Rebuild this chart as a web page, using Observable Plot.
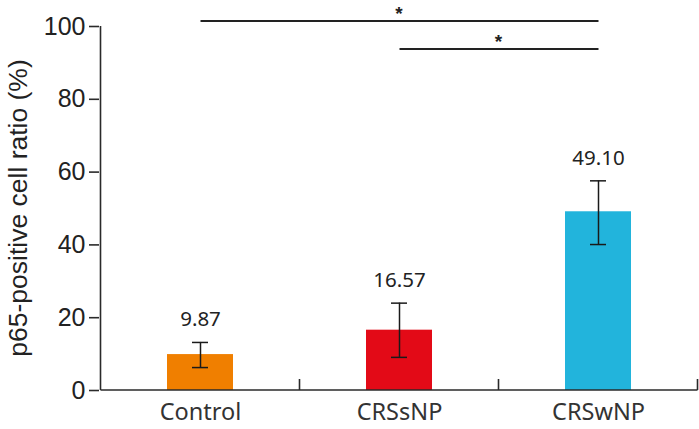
<!DOCTYPE html>
<html><head><meta charset="utf-8">
<script src="https://cdn.jsdelivr.net/npm/d3@7"></script>
<script src="https://cdn.jsdelivr.net/npm/@observablehq/plot@0.6"></script>
<style>body{margin:0;background:#fff}</style></head>
<body><div id="chart"></div>
<script>
const categories = ["Control", "CRSsNP", "CRSwNP"];
const means = [9.87, 16.57, 49.10];
const lower = [6.3, 9.1, 40.1];
const upper = [13.2, 24.0, 57.6];
const colors = ["#F07F00", "#E30A17", "#22B4DC"];
const yTicks = [0, 20, 40, 60, 80, 100];
const compFrom = ["Control", "CRSsNP"];
const compTo = ["CRSwNP", "CRSwNP"];
const compLevel = [101.5, 93.8];
const compLabel = ["*", "*"];
const yTitle = "p65-positive cell ratio (%)";

const rows = categories.map((c, i) => ({cat: c, mean: means[i], lo: lower[i], hi: upper[i], color: colors[i], label: means[i].toFixed(2)}));
const comps = compFrom.map((f, i) => ({from: f, to: compTo[i], level: compLevel[i], label: compLabel[i]}));

function decorations(index, scales) {
  const x = scales.x, y = scales.y;
  const bw = typeof x.bandwidth === "function" ? x.bandwidth() : 0;
  const center = c => x(c) + bw / 2;
  const centers = categories.map(center);
  const step = centers[1] - centers[0];
  const bounds = [centers[0] - step / 2, ...centers.map(c => c + step / 2)];
  const y0 = y(0), yTop = y(d3.max(yTicks));
  const g = d3.create("svg:g");
  const col = "#2a2a2a";
  g.append("line").attr("x1", bounds[0]).attr("x2", bounds[bounds.length - 1])
    .attr("y1", y0).attr("y2", y0).attr("stroke", col).attr("stroke-width", 1.6);
  g.append("line").attr("x1", bounds[0]).attr("x2", bounds[0])
    .attr("y1", y0).attr("y2", yTop).attr("stroke", col).attr("stroke-width", 1.6);
  g.selectAll(".bt").data(bounds.slice(1)).join("line")
    .attr("x1", d => d).attr("x2", d => d).attr("y1", y0).attr("y2", y0 - 11)
    .attr("stroke", col).attr("stroke-width", 1.6);
  g.selectAll(".star").data(comps).join("text")
    .attr("x", d => (center(d.from) + center(d.to)) / 2)
    .attr("y", d => y(d.level) - 1)
    .attr("text-anchor", "middle")
    .attr("font-size", 19).attr("font-weight", "bold").attr("font-family", "Liberation Sans, Arial, sans-serif")
    .attr("fill", "#222").text(d => d.label);
  g.append("text")
    .attr("transform", `translate(27,${(y0 + yTop) / 2}) rotate(-90)`)
    .attr("text-anchor", "middle")
    .attr("font-size", 26.5).attr("font-family", "Liberation Sans, Arial, sans-serif")
    .attr("fill", "#222").text(yTitle);
  return g.node();
}

const plot = Plot.plot({
  width: 699, height: 429,
  marginLeft: 99, marginRight: 1, marginTop: 26, marginBottom: 39,
  x: {domain: categories, paddingInner: 0.67, paddingOuter: 0.335, label: null},
  y: {domain: [0, 100], label: null},
  color: {type: "identity"},
  style: {background: "white", fontFamily: "Liberation Sans, Arial, sans-serif", color: "#222"},
  marks: [
    Plot.barY(rows, {x: "cat", y: "mean", fill: "color"}),
    Plot.ruleX(rows, {x: "cat", y1: "lo", y2: "hi", stroke: "#1a1a1a", strokeWidth: 1.5}),
    Plot.tickY(rows, {x: "cat", y: "lo", stroke: "#1a1a1a", strokeWidth: 1.5, insetLeft: 25, insetRight: 25}),
    Plot.tickY(rows, {x: "cat", y: "hi", stroke: "#1a1a1a", strokeWidth: 1.5, insetLeft: 25, insetRight: 25}),
    Plot.text(rows, {x: "cat", y: "hi", text: "label", dy: -16, lineAnchor: "bottom", fontSize: 20.5, fontFamily: "Noto Sans", fill: "#222"}),
    Plot.link(comps, {x1: "from", x2: "to", y1: "level", y2: "level", stroke: "#222", strokeWidth: 2}),
    Plot.axisY({ticks: yTicks, tickSize: 10, tickPadding: 4, fontSize: 25, label: null, stroke: "#2a2a2a", strokeWidth: 1.6}),
    Plot.axisX({tickSize: 0, tickPadding: 13, fontSize: 23.5, fontFamily: "Noto Sans", label: null, fill: "#333"}),
    decorations
  ]
});
document.getElementById("chart").appendChild(plot);
</script>
</body></html>
